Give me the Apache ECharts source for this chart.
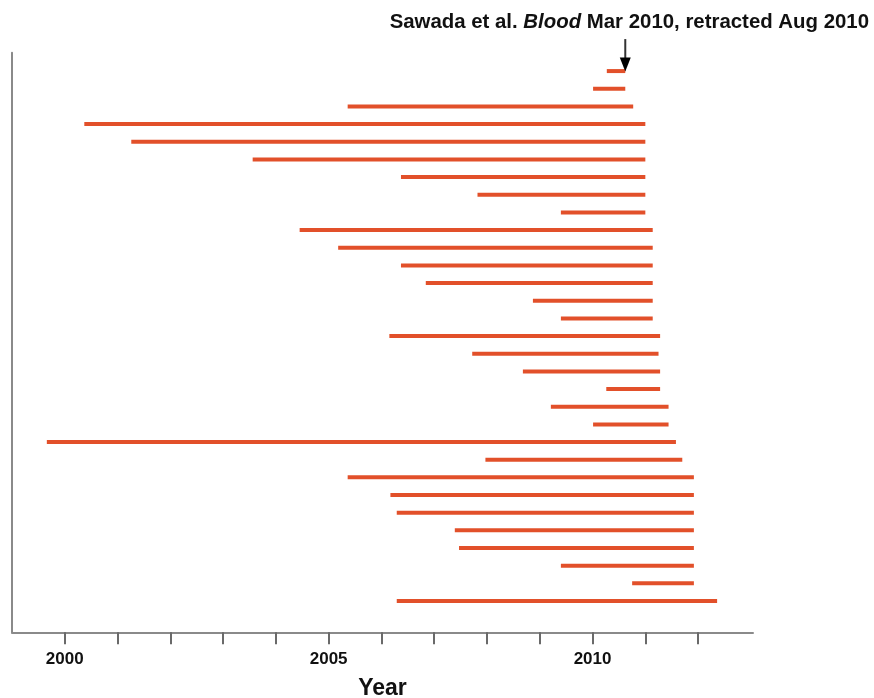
<!DOCTYPE html>
<html>
<head>
<meta charset="utf-8">
<script src="https://cdn.jsdelivr.net/npm/echarts@6/dist/echarts.min.js"></script>
<style>
html,body{margin:0;padding:0;background:#fff;}
#chart{width:874px;height:698px;}
</style>
</head>
<body>
<div id="chart"></div>
<script>
// Each row: one publication period (start year -> end year), top to bottom
const rowIndex = [1,2,3,4,5,6,7,8,9,10,11,12,13,14,15,16,17,18,19,20,21,22,23,24,25,26,27,28,29,30,31];
const startYears = [2010.27,2010.01,2005.36,2000.37,2001.26,2003.56,2006.37,2007.82,2009.40,2004.45,2005.18,2006.37,2006.84,2008.87,2009.40,2006.15,2007.72,2008.68,2010.26,2009.21,2010.01,1999.66,2007.97,2005.36,2006.17,2006.29,2007.39,2007.47,2009.40,2010.75,2006.29];
const endYears   = [2010.62,2010.62,2010.77,2011.00,2011.00,2011.00,2011.00,2011.00,2011.00,2011.14,2011.14,2011.14,2011.14,2011.14,2011.14,2011.28,2011.25,2011.28,2011.28,2011.44,2011.44,2011.58,2011.70,2011.92,2011.92,2011.92,2011.92,2011.92,2011.92,2011.92,2012.36];
const tickYears  = [2000,2001,2002,2003,2004,2005,2006,2007,2008,2009,2010,2011,2012];
const labelYears = [2000,2005,2010];
const annotation = {year: 2010.62, row: 1};
const titleParts = ['Sawada et al. ', 'Blood', ' Mar 2010, retracted Aug 2010'];
const xAxisName = 'Year';

const barColor = '#e2502a';
const font = '"Liberation Sans", Arial, Helvetica, sans-serif';

const segData = rowIndex.map((r, i) => [startYears[i], endYears[i], r]);

const chart = echarts.init(document.getElementById('chart'), null, {renderer: 'canvas'});
chart.setOption({
  animation: false,
  backgroundColor: '#fff',
  title: {
    text: '{b|' + titleParts[0] + '}{i|' + titleParts[1] + '}{b|' + titleParts[2] + '}',
    right: 0,
    top: 7,
    textStyle: {
      rich: {
        b: {fontFamily: font, fontWeight: 'bold', fontSize: 20.4, color: '#111'},
        i: {fontFamily: font, fontWeight: 'bold', fontStyle: 'italic', fontSize: 20.4, color: '#111'}
      }
    }
  },
  grid: {left: 12, right: 121, top: 52.7, bottom: 65.7, containLabel: false, outerBoundsMode: 'none'},
  xAxis: {
    type: 'value',
    position: 'bottom',
    min: 1999,
    max: 2013.04,
    name: xAxisName,
    nameLocation: 'middle',
    nameGap: 45,
    nameTextStyle: {fontFamily: font, fontWeight: 'bold', fontSize: 23, color: '#111'},
    axisLine: {show: true, onZero: false, lineStyle: {color: '#8a8a8a', width: 2}},
    axisTick: {show: true, customValues: tickYears, length: 12, lineStyle: {color: '#6a6a6a', width: 2}},
    axisLabel: {show: true, customValues: labelYears, margin: 19, formatter: v => String(v), fontFamily: font, fontWeight: 'bold', fontSize: 17, color: '#111'},
    splitLine: {show: false}
  },
  yAxis: {
    type: 'value',
    inverse: true,
    min: -0.04,
    max: 32.77,
    axisLine: {show: true, onZero: false, lineStyle: {color: '#8a8a8a', width: 2}},
    axisTick: {show: false},
    axisLabel: {show: false},
    splitLine: {show: false}
  },
  series: [
    {
      type: 'custom',
      data: segData,
      encode: {x: [0, 1], y: 2},
      renderItem: function (params, api) {
        const s = api.coord([api.value(0), api.value(2)]);
        const e = api.coord([api.value(1), api.value(2)]);
        return {
          type: 'line',
          shape: {x1: s[0], y1: s[1], x2: e[0], y2: e[1]},
          style: {stroke: barColor, lineWidth: 4, lineCap: 'butt'}
        };
      }
    },
    {
      type: 'custom',
      clip: false,
      data: [[annotation.year, annotation.row]],
      encode: {x: 0, y: 1},
      renderItem: function (params, api) {
        const p = api.coord([api.value(0), api.value(1)]);
        const x = p[0], y = p[1];
        return {
          type: 'group',
          children: [
            {type: 'line', shape: {x1: x, y1: y - 32, x2: x, y2: y - 12}, style: {stroke: '#333', lineWidth: 2}},
            {type: 'polygon', shape: {points: [[x - 5.5, y - 13.5], [x + 5.5, y - 13.5], [x, y + 0.5]]}, style: {fill: '#000'}}
          ]
        };
      }
    }
  ]
});
</script>
</body>
</html>
